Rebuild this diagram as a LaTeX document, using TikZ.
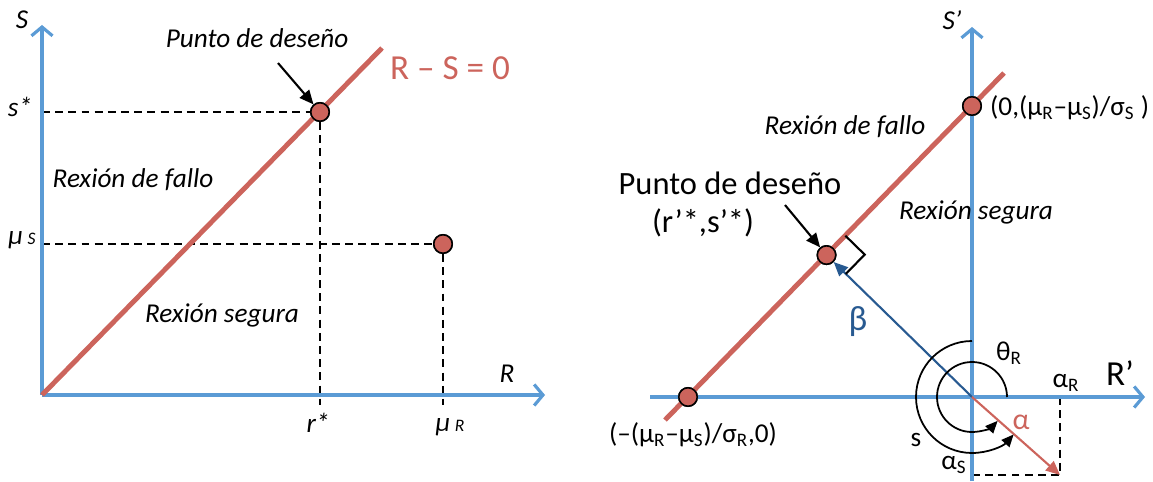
\documentclass[tikz,border=0pt]{standalone}
\usepackage{fontspec}
\setmainfont{Carlito}
\usetikzlibrary{arrows.meta, calc}
\definecolor{axisblue}{RGB}{91,155,213}
\definecolor{limitred}{RGB}{204,100,92}
\definecolor{betablue}{RGB}{40,90,145}
\newcommand{\lo}[1]{\textsubscript{#1}}
\newcommand{\fs}[1]{\fontsize{#1}{#1}\selectfont}

\begin{document}
\begin{tikzpicture}[x=0.02cm, y=0.02cm,
    axis/.style={draw=axisblue, line width=1.8pt, -{Straight Barb[length=5pt, width=12pt]}},
    limit/.style={draw=limitred, line width=2.8pt},
    pt/.style={circle, draw=black, fill=limitred, line width=0.9pt, minimum size=10.5pt, inner sep=0pt},
    guide/.style={draw=black, dashed, line width=0.8pt, dash pattern=on 4.5pt off 3pt},
    pointer/.style={draw=black, line width=1.2pt, -{Triangle[length=8pt, width=7pt]}},
    lab/.style={font=\fs{15.5}},
    itlab/.style={font=\fs{15.5}\itshape}]
\useasboundingbox (0,0) rectangle (1153,481);

% left: R - S plane
\coordinate (o1) at (42,86);
\coordinate (stip) at (42,456);
\coordinate (rtip) at (545,86);
\coordinate (lend) at (382,433);
\node[pt] at (320,369)(d1){};
\node[pt] at (443,237)(m1){};
\coordinate (s1) at (42,369);
\coordinate (ms1) at (42,237);
\coordinate (r1) at (320,76);
\coordinate (mr1) at (443,76);
\coordinate (p1) at (278,418);
\draw[guide] (s1) -- (d1) -- (r1);
\draw[guide] (ms1) -- (m1) -- (mr1);
\draw[axis] (o1) -- (stip);
\draw[axis] (o1) -- (rtip);
\draw[limit] (o1) -- (lend);
\node[pt] at (d1){};
\node[pt] at (m1){};
\draw[pointer] (p1) -- (d1);
\node[itlab] at (22,461)(slab){S};
\node[itlab] at (507,107)(rlab){R};
\node[itlab] at (257,443)(dp1){Punto de deseño};
\node[font=\fs{20}, text=limitred] at (450,413)(eq){R – S = 0};
\node[itlab] at (20,374)(sstar){s*};
\node[itlab] at (22,241)(mus){μ\,{\fs{10}S}};
\node[itlab] at (318,58)(rstar){r*};
\node[itlab] at (450,54)(mur){μ\,{\fs{10}R}};
\node[itlab] at (133,301)(fail1){Rexión de fallo};
\node[itlab] at (222,166)(safe1){Rexión segura};

% right: standardised plane
\coordinate (o2) at (972,84);
\coordinate (sptip) at (972,454);
\coordinate (spbot) at (972,0);
\coordinate (rpleft) at (650,84);
\coordinate (rptip) at (1145,84);
\coordinate (l2a) at (665,61);
\coordinate (l2b) at (1004,408);
\node[pt] at (688,84)(a2){};
\node[pt] at (972,375)(b2){};
\node[pt] at ($(a2)!(o2)!(b2)$)(d2){};
\coordinate (atip) at (1060,6);
\coordinate (ar) at (1060,84);
\coordinate (as) at (972,6);
\coordinate (p2) at (785,276);
\coordinate (ra1) at ($(d2)!0.54cm!(b2)$);
\coordinate (ra2) at ($(d2)!0.54cm!(o2)$);
\coordinate (ra3) at ($(ra1)+(ra2)-(d2)$);
\draw[guide] (ar) -- (atip) -- (as);
\draw[axis] (spbot) -- (sptip);
\draw[axis] (rpleft) -- (rptip);
\draw[limit] (l2a) -- (l2b);
\node[pt] at (a2){};
\node[pt] at (b2){};
\node[pt] at (d2){};
\draw[betablue, line width=1.2pt, -{Triangle[length=8pt, width=7pt]}] (o2) -- (d2);
\draw[limitred, line width=1.2pt, -{Triangle[length=8pt, width=7pt]}] (o2) -- (atip);
\draw[black, line width=1.2pt] (ra1) -- (ra3) -- (ra2);
\draw[pointer] (p2) -- (d2);
\draw[black, line width=1pt, -{Triangle[length=7pt, width=6pt]}] ($(o2)+(35,0)$) arc[start angle=0, end angle=317, radius=35];
\draw[black, line width=1pt, -{Triangle[length=7pt, width=6pt]}] ($(o2)+(0,56)$) arc[start angle=90, end angle=318, radius=56];
\node[font=\fs{15.5}\itshape] at (952,461)(splab){S'};
\node[font=\fs{20}] at (1120,108)(rplab){R’};
\node[lab, anchor=west] at (984,373)(bl){(0,(μ\lo{R}–μ\lo{S})/σ\lo{S} )};
\node[lab] at (693,46)(al){(–(μ\lo{R}–μ\lo{S})/σ\lo{R},0)};
\node[itlab] at (845,354)(fail2){Rexión de fallo};
\node[itlab] at (976,269)(safe2){Rexión segura};
\node[font=\fs{18.5}] at (730,298)(dp2){Punto de deseño};
\node[font=\fs{18.5}] at (703,258)(dpc){(r’*,s’*)};
\node[font=\fs{20}, text=betablue] at (858,159)(beta){β};
\node[lab] at (1009,128)(theta){θ\lo{R}};
\node[lab] at (916,41)(slab2){s};
\node[font=\fs{17}, text=limitred] at (1021,59)(alpha){α};
\node[lab] at (1066,98)(alr){α\lo{R}};
\node[lab] at (954,16)(als){α\lo{S}};
\end{tikzpicture}
\end{document}
